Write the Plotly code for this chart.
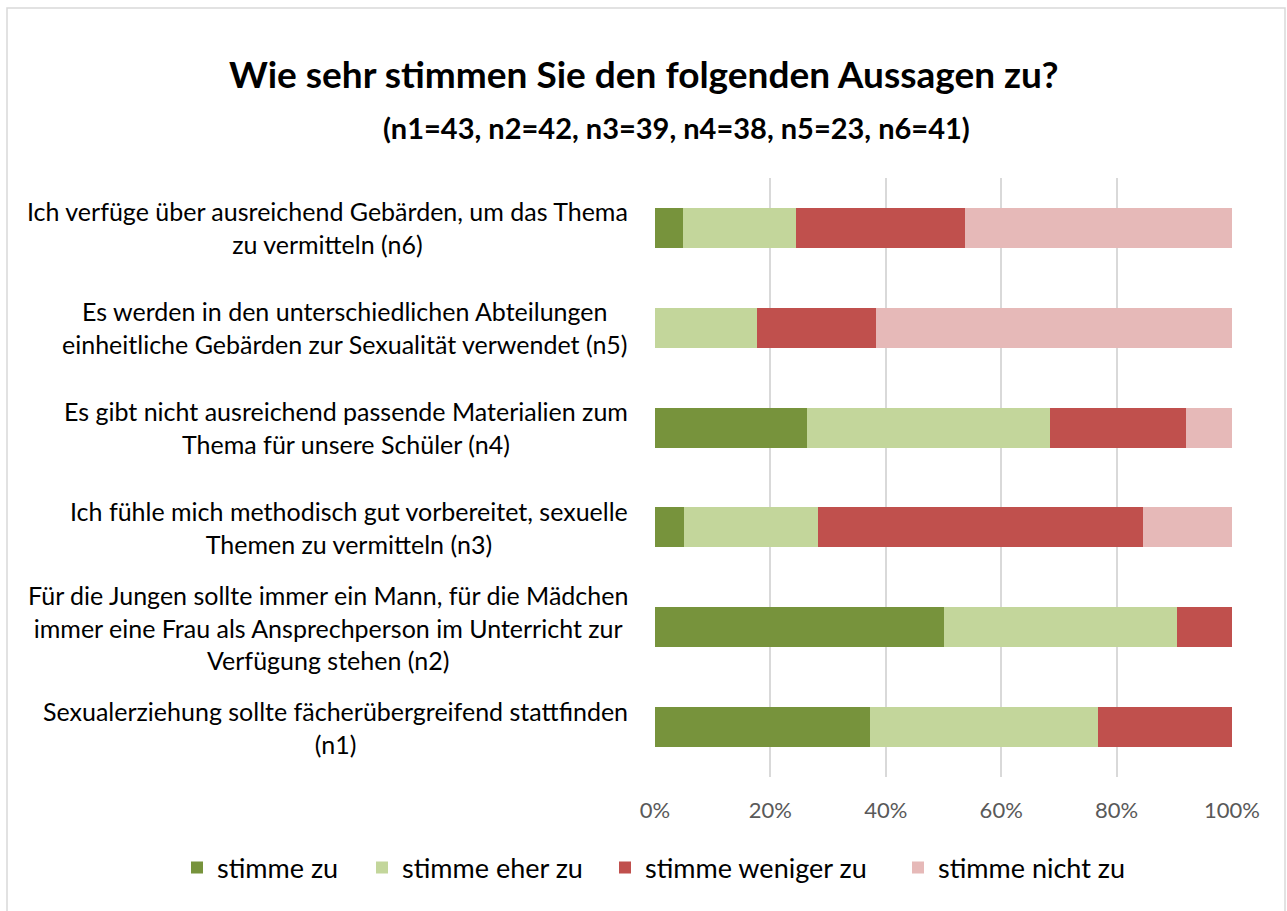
import plotly.graph_objects as go

categories = [
    "Sexualerziehung sollte fächerübergreifend stattfinden<br>(n1)",
    "Für die Jungen sollte immer ein Mann, für die Mädchen<br>immer eine Frau als Ansprechperson im Unterricht zur<br>Verfügung stehen (n2)",
    "Ich fühle mich methodisch gut vorbereitet, sexuelle<br>Themen zu vermitteln (n3)",
    "Es gibt nicht ausreichend passende Materialien zum<br>Thema für unsere Schüler (n4)",
    "Es werden in den unterschiedlichen Abteilungen<br>einheitliche Gebärden zur Sexualität verwendet (n5)",
    "Ich verfüge über ausreichend Gebärden, um das Thema<br>zu vermitteln (n6)",
]
series_names = ["stimme zu", "stimme eher zu", "stimme weniger zu", "stimme nicht zu"]
stimme_zu = [37.2, 50.0, 5.1, 26.3, 0.0, 4.9]
stimme_eher_zu = [39.5, 40.5, 23.1, 42.1, 17.7, 19.5]
stimme_weniger_zu = [23.3, 9.5, 56.4, 23.7, 20.6, 29.3]
stimme_nicht_zu = [0.0, 0.0, 15.4, 7.9, 61.7, 46.3]
colors = ["#77933C", "#C3D69B", "#C0504D", "#E6B9B8"]
x_ticks = [0, 20, 40, 60, 80, 100]
x_tick_labels = ["0%", "20%", "40%", "60%", "80%", "100%"]

title = "Wie sehr stimmen Sie den folgenden Aussagen zu?"
subtitle = "(n1=43, n2=42, n3=39, n4=38, n5=23, n6=41)"

FONT = "Lato"
W, H = 1287, 911
PL, PR, PT, PB = 655, 1232, 178, 777
legend_symbol_px = [197, 382, 625, 918]   # legend entry positions (layout)


def px_x(px):
    return (px - PL) / (PR - PL)


def px_y(py):
    return (PB - py) / (PB - PT)


legend_ids = ["legend", "legend2", "legend3", "legend4"]
fig = go.Figure()
for name, vals, col, lid in zip(series_names,
                                [stimme_zu, stimme_eher_zu, stimme_weniger_zu, stimme_nicht_zu],
                                colors, legend_ids):
    fig.add_trace(go.Bar(
        y=categories, x=vals, name=name, orientation="h",
        marker=dict(color=col, line=dict(width=0)),
        hoverinfo="x+name", legend=lid,
    ))

annotations = [
    dict(text="<b>" + title + "</b>", x=px_x(W / 2), y=px_y(73), xref="paper", yref="paper",
         showarrow=False, font=dict(size=37, color="#000000", family=FONT),
         xanchor="center", yanchor="middle"),
    dict(text="<b>" + subtitle + "</b>", x=px_x(676), y=px_y(128), xref="paper", yref="paper",
         showarrow=False, font=dict(size=29, color="#000000", family=FONT),
         xanchor="center", yanchor="middle"),
]
for c in categories:
    annotations.append(dict(
        text=c, x=0, xref="paper", y=c, yref="y", xanchor="right", yanchor="middle",
        xshift=-25, align="center", showarrow=False,
        font=dict(size=25, color="#000000", family=FONT),
    ))

legend_layouts = {}
for lid, sx in zip(legend_ids, legend_symbol_px):
    legend_layouts[lid] = dict(
        orientation="h", x=(sx - 20) / W, xanchor="left", xref="container",
        y=(H - 868) / H, yref="container", yanchor="middle",
        font=dict(size=27, color="#000000", family=FONT),
        itemwidth=30, bgcolor="rgba(0,0,0,0)",
    )

fig.update_layout(
    width=W, height=H,
    paper_bgcolor="white", plot_bgcolor="white",
    barmode="stack", bargap=0.6,
    margin=dict(l=PL, r=W - PR, t=PT, b=H - PB, autoexpand=False),
    font=dict(family=FONT, color="#000000"),
    showlegend=True,
    xaxis=dict(range=[0, 100], tickvals=x_ticks, ticktext=x_tick_labels,
               showgrid=True, gridcolor="#D9D9D9", gridwidth=2, zeroline=False,
               showline=False, tickfont=dict(size=22, color="#595959", family=FONT),
               ticklabelstandoff=18, fixedrange=True, automargin=False),
    yaxis=dict(showticklabels=False, showgrid=False, zeroline=False, showline=False,
               categoryorder="array", categoryarray=categories, fixedrange=True,
               automargin=False),
    annotations=annotations,
    **legend_layouts,
)
fig.add_shape(type="rect", xref="paper", yref="paper",
              x0=px_x(7), x1=px_x(1285), y0=px_y(930), y1=px_y(8),
              line=dict(color="#D9D9D9", width=1.5), fillcolor="rgba(0,0,0,0)", layer="below")

fig.write_html("out.html", post_script="document.body.style.margin='0';",
               config={"displayModeBar": False})
